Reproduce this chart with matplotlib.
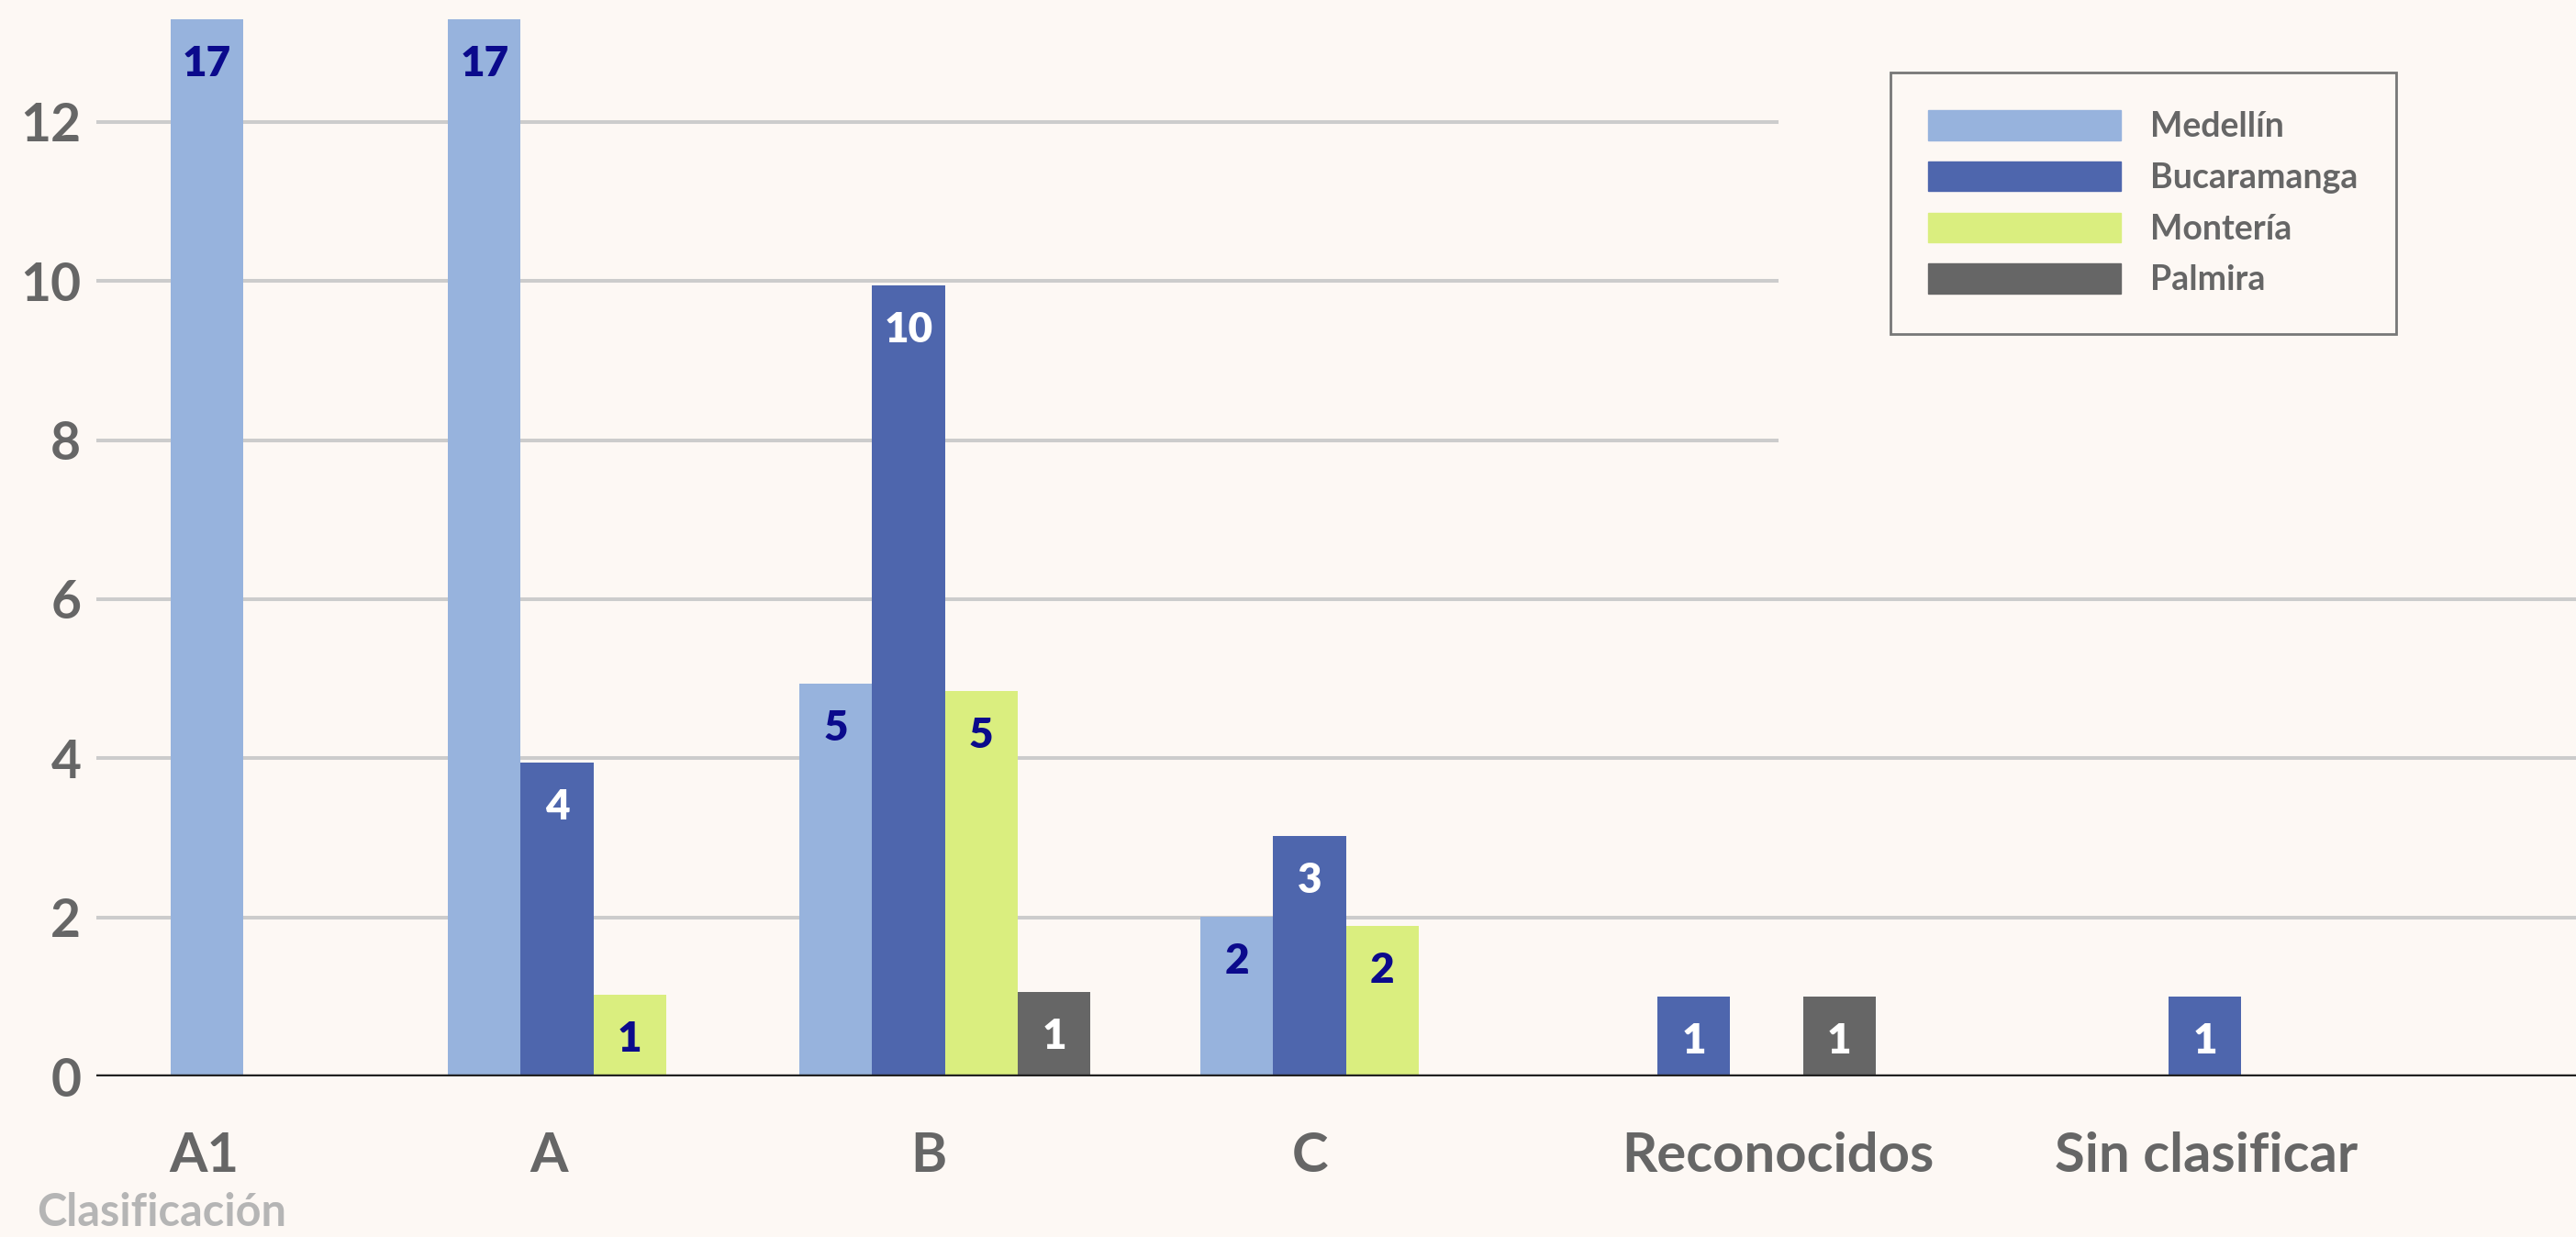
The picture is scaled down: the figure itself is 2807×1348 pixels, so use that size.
import matplotlib.pyplot as plt

# Data
categories = ["A1", "A", "B", "C", "Reconocidos", "Sin clasificar"]
series = ["Medellín", "Bucaramanga", "Montería", "Palmira"]
medellin = [17, 17, 4.94, 2.01, 0, 0]
bucaramanga = [0, 3.95, 9.95, 3.02, 1.0, 1.0]
monteria = [0, 1.03, 4.85, 1.89, 0, 0]
palmira = [0, 0, 1.06, 0, 1.0, 0]
values = [medellin, bucaramanga, monteria, palmira]

# Styles / layout
colors = ["#97B3DD", "#4E66AD", "#DAEE7F", "#666666"]
label_colors = ["#0B0A8C", "#FFFFFF", "#0B0A8C", "#FFFFFF"]
bg = "#FDF8F4"
group_start = [1.02, 4.83, 9.66, 15.17, 21.45, 28.47]
tick_pos = [1.48, 6.22, 11.44, 16.67, 23.10, 28.99]
ytop = 13.29

plt.rcParams['font.family'] = ['Lato', 'DejaVu Sans']

fig = plt.figure(figsize=(28.07, 13.48), dpi=100, facecolor=bg)
ax = fig.add_axes([0.0374, 0.1298, 0.9626, 0.8546])
ax.set_facecolor(bg)

# gridlines
for y in [2, 4, 6]:
    ax.axhline(y, color="#CCCCCC", lw=2.9, zorder=0)
for y in [8, 10, 12]:
    ax.axhline(y, xmin=0, xmax=0.6777, color="#CCCCCC", lw=2.9, zorder=0)

# bars, zero values skipped, slots counted from first non-zero series
for g, start in enumerate(group_start):
    col = [values[s][g] for s in range(len(series))]
    first = next(i for i, v in enumerate(col) if v > 0)
    for s, v in enumerate(col):
        if v <= 0:
            continue
        x = start + (s - first) + 0.5
        ax.bar(x, v, width=1.0, color=colors[s], zorder=2)
        ax.annotate(str(int(round(v))), xy=(x, min(v, ytop)), xytext=(0, -35),
                    textcoords="offset points", ha="center", va="center",
                    fontsize=33, fontweight="heavy", color=label_colors[s],
                    zorder=4)

ax.axhline(0, color="#222222", lw=3.2, zorder=3)

ax.set_xlim(0, 34.07)
ax.set_ylim(0, ytop)
ax.set_yticks([0, 2, 4, 6, 8, 10, 12])
ax.set_xticks(tick_pos, categories)
ax.tick_params(axis="y", length=0, pad=12, labelsize=41, labelcolor="#666666")
ax.tick_params(axis="x", length=0, pad=43, labelsize=43, labelcolor="#666666")
for lbl in ax.get_xticklabels() + ax.get_yticklabels():
    lbl.set_fontweight("bold")
for sp in ax.spines.values():
    sp.set_visible(False)

fig.text(40 / 2807, 1 - 1322 / 1348, "Clasificación", fontsize=35, fontweight="bold",
         color="#B5B5B5", ha="left", va="center")

# legend
handles = [plt.Rectangle((0, 0), 1, 1, color=c) for c in colors]
leg = fig.legend(handles, series, loc="upper left",
                 bbox_to_anchor=(2060 / 2807, 1 - 79 / 1348),
                 bbox_transform=fig.transFigure, borderaxespad=0,
                 fontsize=27, handlelength=5.6, handleheight=0.95,
                 labelspacing=0.55, handletextpad=0.85, borderpad=1.1,
                 fancybox=False, frameon=True, facecolor=bg, edgecolor="#777777",
                 framealpha=1)
leg.get_frame().set_linewidth(2)
for t in leg.get_texts():
    t.set_color("#666666")
    t.set_fontweight("bold")

fig.savefig("out.png", dpi=100, facecolor=bg)
